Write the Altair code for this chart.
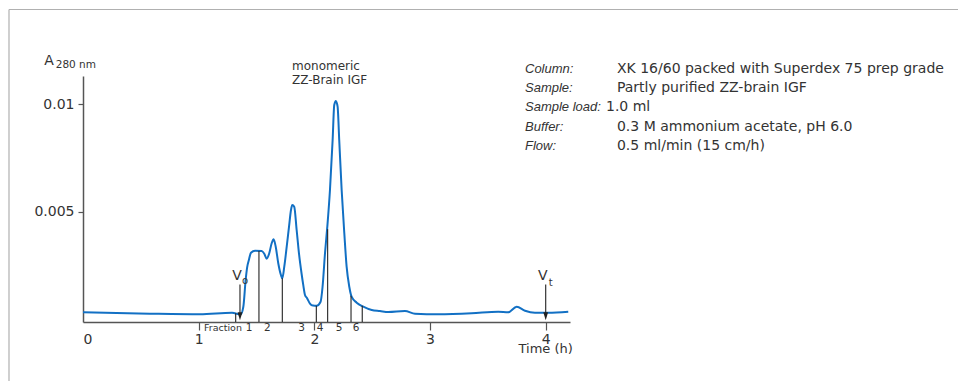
import altair as alt
import pandas as pd

# ---- data ----
time_h = [0.000, 0.579, 1.011, 1.288, 1.314, 1.363, 1.386, 1.406, 1.419, 1.434,
          1.452, 1.487, 1.545, 1.568, 1.588, 1.610, 1.631, 1.648, 1.666, 1.688,
          1.711, 1.723, 1.740, 1.761, 1.781, 1.798, 1.809, 1.826, 1.847, 1.867,
          1.890, 1.904, 1.919, 1.936, 1.962, 1.988, 2.020, 2.054, 2.071, 2.092,
          2.112, 2.135, 2.158, 2.172, 2.186, 2.201, 2.215, 2.236, 2.259, 2.279,
          2.302, 2.322, 2.366, 2.423, 2.496, 2.567, 2.639, 2.783, 2.870, 3.071,
          3.360, 3.590, 3.676, 3.749, 3.821, 3.907, 4.022, 4.195]
absorbance_milli = [0.317, 0.251, 0.223, 0.298, 0.270, 0.223, 0.577, 1.820, 2.412, 2.751,
                    3.091, 3.184, 3.170, 3.031, 2.812, 3.063, 3.529, 3.715, 3.371, 2.598,
                    2.053, 1.899, 2.439, 3.371, 4.302, 5.079, 5.312, 5.233, 4.148, 3.063,
                    2.100, 1.590, 1.122, 0.982, 0.726, 0.633, 0.624, 0.810, 1.508, 3.063,
                    4.302, 6.010, 8.338, 9.967, 10.153, 9.888, 8.338, 6.010, 3.994, 2.439,
                    1.508, 1.043, 0.764, 0.577, 0.424, 0.377, 0.331, 0.377, 0.251, 0.223,
                    0.270, 0.345, 0.317, 0.577, 0.391, 0.298, 0.298, 0.345]

fraction_bounds_h = [1.320, 1.521, 1.723, 2.017, 2.115, 2.317, 2.414]
fraction_tops_milli = [0.27, 3.17, 1.90, 0.62, 4.18, 1.09, 0.62]
fraction_labels = ["1", "2", "3", "4", "5", "6"]
fraction_label_h = [1.435, 1.593, 1.890, 2.049, 2.213, 2.360]

marker_h = [1.357, 4.0]
marker_subs = ["o", "t"]

x_ticks = [0, 1, 2, 3, 4]
y_ticks = [0.005, 0.01]

info_labels = ["Column:", "Sample:", "Sample load:", "Buffer:", "Flow:"]
info_values = ["XK 16/60 packed with Superdex 75 prep grade",
               "Partly purified ZZ-brain IGF", "1.0 ml",
               "0.3 M ammonium acetate, pH 6.0",
               "0.5 ml/min (15 cm/h)"]
peak_label = ["monomeric", "ZZ-Brain IGF"]

# ---- layout constants ----
W, H = 487, 246
X_DOM = [0, 4.21]
Y_MIN, Y_MAX = -0.000135, 0.011317
FONT = "DejaVu Sans"
IFONT = "Liberation Sans"
TXT = "#333333"
AX = "#555555"
BLUE = "#1270c4"
INFO_TOP = 11.471        # first text baseline (milli-absorbance units)
INFO_STEP = 19.4 / 21.48  # line step in the same units
LABEL_X, VALUE_X, LOAD_X = 3.821, 4.616, 4.521


def m(v):
    return v / 1000.0


def anchor(t, a_milli):
    return pd.DataFrame({"t": [t], "a": [m(a_milli)]})


curve = pd.DataFrame({"t": time_h, "a": [m(v) for v in absorbance_milli]})
fr = pd.DataFrame({"t": fraction_bounds_h, "a": [m(v) for v in fraction_tops_milli],
                   "b": [Y_MIN] * len(fraction_bounds_h)})
frl = pd.DataFrame({"t": fraction_label_h, "lab": fraction_labels,
                    "a": [m(-0.428)] * len(fraction_label_h)})
mk = pd.DataFrame({"t": marker_h, "sub": marker_subs,
                   "top": [m(1.61)] * 2, "bot": [m(0.2)] * 2, "head": [m(0.13)] * 2,
                   "vy": [m(1.82)] * 2, "sy": [m(1.634), m(1.564)]})
info = pd.DataFrame({
    "label": info_labels, "value": info_values,
    "a": [m(INFO_TOP - i * INFO_STEP) for i in range(len(info_labels))],
    "lx": [LABEL_X] * len(info_labels),
    "vx": [LOAD_X if lab == "Sample load:" else VALUE_X for lab in info_labels],
})
one = pd.DataFrame({"k": [0]})

xs = alt.Scale(domain=X_DOM, nice=False, zero=False)
ys = alt.Scale(domain=[Y_MIN, Y_MAX], nice=False, zero=False)

line = alt.Chart(curve).mark_line(color=BLUE, strokeWidth=2, interpolate="monotone").encode(
    x=alt.X("t:Q", scale=xs, title=None, axis=alt.Axis(
        values=x_ticks, format="d", title=None, grid=False, tickSize=8, labelFontSize=14,
        labelPadding=2, labelFlush=True, domainColor=AX, domainWidth=1.5,
        tickColor=AX, tickWidth=1.2, labelColor=TXT, labelFont=FONT,
        tickOpacity={"condition": {"test": "datum.value == 0", "value": 0}, "value": 1})),
    y=alt.Y("a:Q", scale=ys, title=None, axis=alt.Axis(
        values=y_ticks, format="~g", title=None, grid=False, tickSize=5,
        labelFontSize=14, labelPadding=4, domainColor=AX, domainWidth=1.5,
        tickColor=AX, tickWidth=1.2, labelColor=TXT, labelFont=FONT)),
)

rules = alt.Chart(fr).mark_rule(color="#222222", strokeWidth=1.1).encode(
    x="t:Q", y="a:Q", y2="b:Q")

fr_text = alt.Chart(frl).mark_text(fontSize=10.5, font=FONT, color=TXT, baseline="middle").encode(
    x="t:Q", y="a:Q", text="lab:N")

fr_word = alt.Chart(anchor(1.046, -0.428)).mark_text(
    text="Fraction", fontSize=9.5, font=FONT, color=TXT, align="left", baseline="middle"
).encode(x="t:Q", y="a:Q")

arrows = alt.Chart(mk).mark_rule(color="#222222", strokeWidth=1.1).encode(
    x="t:Q", y="top:Q", y2="bot:Q")
heads = alt.Chart(mk).mark_point(shape="M -0.6 -1 L 0.6 -1 L 0 1 Z", size=64, filled=True,
                                 color="#222222", opacity=1).encode(
    x="t:Q", y="head:Q")
v_text = alt.Chart(mk).mark_text(text="V", fontSize=14, font=FONT, color=TXT, dx=-3,
                                 baseline="alphabetic").encode(x="t:Q", y="vy:Q")
v_sub = alt.Chart(mk).mark_text(fontSize=10, font=FONT, color=TXT, dx=5,
                                baseline="alphabetic").encode(x="t:Q", y="sy:Q", text="sub:N")

a_main = alt.Chart(anchor(-0.294, 11.83)).mark_text(
    text="A", fontSize=14, font=FONT, color=TXT, baseline="alphabetic").encode(x="t:Q", y="a:Q")
a_sub = alt.Chart(anchor(-0.236, 11.676)).mark_text(
    text="280 nm", fontSize=10.5, font=FONT, color=TXT, align="left",
    baseline="alphabetic").encode(x="t:Q", y="a:Q")

time_title = alt.Chart(anchor(4.0, -1.40)).mark_text(
    text="Time (h)", fontSize=13, font=FONT, color=TXT, baseline="middle").encode(x="t:Q", y="a:Q")

peak_txt = alt.Chart(anchor(1.807, 11.574)).mark_text(
    text=peak_label, fontSize=12, font=FONT, color=TXT, align="left", lineHeight=13.3,
    baseline="alphabetic").encode(x="t:Q", y="a:Q")

info_l = alt.Chart(info).mark_text(
    fontSize=13, font=IFONT, color=TXT, fontStyle="italic", align="left",
    baseline="alphabetic").encode(x="lx:Q", y="a:Q", text="label:N")
info_v = alt.Chart(info).mark_text(
    fontSize=14, font=FONT, color=TXT, align="left",
    baseline="alphabetic").encode(x="vx:Q", y="a:Q", text="value:N")

frame_top = alt.Chart(one).mark_rule(color="#b0b0b0", strokeWidth=1.2).encode(
    x=alt.value(-74), x2=alt.value(875), y=alt.value(-66.5))
frame_left = alt.Chart(one).mark_rule(color="#b0b0b0", strokeWidth=1.2).encode(
    x=alt.value(-74), y=alt.value(-66.5), y2=alt.value(330))

chart = alt.layer(
    line, frame_top, frame_left, rules, fr_text, fr_word, arrows, heads, v_text, v_sub,
    a_main, a_sub, time_title, peak_txt, info_l, info_v
).properties(
    width=W, height=H,
    background="white",
    autosize=alt.AutoSizeParams(type="none"),
    padding={"left": 75, "top": 68, "right": 388, "bottom": 59},
).configure_view(stroke=None)

chart.save("out.html", embed_options={"renderer": "svg", "actions": False})
